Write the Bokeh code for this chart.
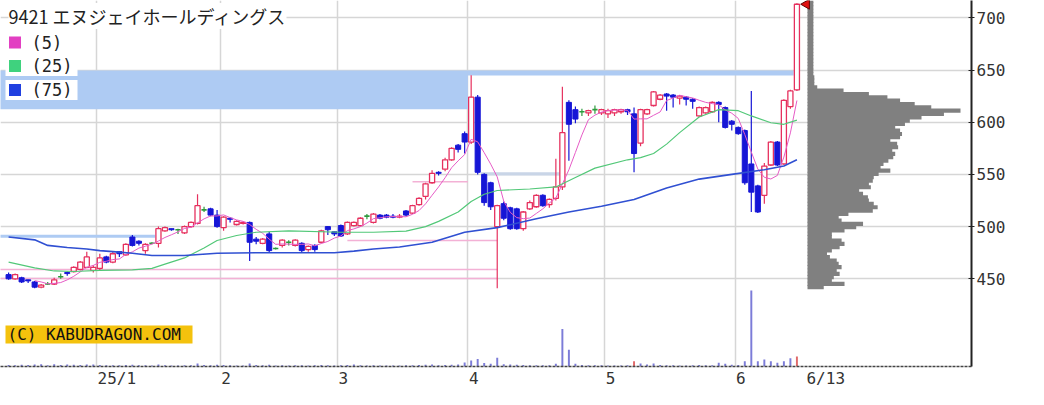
import numpy as np
import pandas as pd
from bokeh.plotting import figure
from bokeh.models import Range1d, FixedTicker, Label
from bokeh.embed import file_html
from bokeh.resources import INLINE

# ---------------- data ----------------
title_text = "9421 エヌジェイホールディングス"
ma_labels = ["(5)", "(25)", "(75)"]
copyright_text = "(C) KABUDRAGON.COM"
month_labels = ["25/1", "2", "3", "4", "5", "6"]
month_days = [14, 19, 18, 20, 21, 20, 10]      # trading days Dec..Jun(13)
last_label = "6/13"
price_ticks = [450, 500, 550, 600, 650, 700]

opens = [454, 450, 451, 449, 447, 442, 445, 445, 452, 456,
         457, 459, 461, 458, 460, 471, 466, 476, 473, 490,
         486, 477, 484, 484, 496, 498, 497, 494, 500, 503,
         516, 517, 511, 499, 508, 502, 503, 504, 488, 484,
         493, 479, 482, 485, 482, 484, 478, 482, 485, 500,
         495, 501, 493, 501, 501, 510, 504, 511, 511, 510,
         509, 515, 513, 521, 529, 542, 552, 555, 564, 578,
         589, 581, 624, 550, 542, 500, 522, 518, 517, 498,
         517, 519, 530, 521, 527, 538, 619, 612, 610, 609,
         612, 609, 608, 609, 610, 612, 608, 580, 608, 616,
         622, 627, 626, 623, 624, 622, 606, 609, 610, 619,
         614, 601, 595, 592, 560, 539, 530, 559, 581, 560,
         615, 631]
highs = [456, 455, 452, 449, 448, 445, 447, 451, 455, 457,
         462, 467, 476, 463, 474, 472, 476, 476, 484, 492,
         487, 484, 485, 500, 500, 498, 498, 501, 505, 531,
         519, 518, 516, 510, 509, 506, 505, 505, 490, 489,
         495, 480, 488, 487, 488, 485, 482, 483, 497, 500,
         495, 502, 505, 505, 509, 512, 513, 512, 512, 512,
         512, 516, 521, 528, 542, 554, 553, 566, 576, 579,
         591, 645, 626, 551, 543, 521, 524, 519, 518, 515,
         525, 531, 531, 527, 565, 634, 621, 615, 613, 612,
         616, 613, 613, 613, 613, 613, 614, 613, 613, 630,
         627, 628, 627, 626, 625, 623, 615, 615, 620, 620,
         615, 602, 596, 593, 630, 540, 561, 582, 582, 622,
         631, 714]
lows = [449, 449, 446, 446, 441, 441, 444, 444, 450, 453,
        456, 458, 460, 456, 458, 465, 465, 471, 472, 481,
        482, 474, 483, 480, 495, 496, 493, 493, 499, 502,
        514, 510, 499, 496, 504, 501, 502, 467, 483, 483,
        475, 478, 480, 482, 481, 475, 476, 476, 484, 492,
        491, 490, 492, 500, 500, 507, 503, 507, 508, 508,
        508, 510, 512, 520, 526, 541, 549, 553, 563, 571,
        570, 579, 550, 520, 516, 441, 506, 497, 497, 496,
        516, 518, 519, 518, 525, 535, 563, 599, 606, 606,
        608, 607, 604, 606, 608, 607, 552, 577, 607, 615,
        621, 611, 614, 617, 616, 613, 605, 608, 609, 600,
        594, 592, 588, 540, 514, 513, 522, 558, 558, 559,
        613, 630]
closes = [450, 454, 447, 448, 442, 444, 445, 449, 452, 455,
          461, 466, 471, 461, 470, 466, 474, 474, 483, 482,
          484, 483, 484, 498, 499, 497, 497, 500, 504, 520,
          516, 511, 500, 509, 507, 505, 504, 485, 486, 488,
          477, 479, 487, 485, 487, 477, 481, 478, 496, 497,
          493, 491, 504, 504, 508, 510, 512, 508, 509, 509,
          510, 511, 520, 527, 541, 551, 551, 564, 575, 574,
          581, 624, 552, 523, 519, 520, 508, 498, 498, 514,
          523, 530, 520, 526, 538, 590, 598, 603, 610, 611,
          612, 612, 611, 612, 612, 610, 570, 612, 612, 629,
          626, 625, 624, 625, 622, 620, 614, 614, 619, 617,
          595, 598, 589, 542, 533, 514, 558, 581, 559, 621,
          630, 713]
volumes = [40, 35, 45, 40, 50, 60, 35, 60, 40, 55,
           45, 40, 50, 55, 40, 30, 35, 30, 40, 45,
           30, 35, 25, 55, 35, 25, 25, 30, 35, 80,
           40, 35, 45, 40, 30, 25, 25, 80, 40, 30,
           45, 25, 30, 25, 30, 35, 25, 30, 40, 30,
           25, 35, 40, 55, 35, 25, 35, 25, 25, 25,
           25, 30, 35, 40, 45, 55, 35, 40, 45, 50,
           105, 160, 200, 90, 70, 230, 60, 50, 45, 40,
           35, 35, 30, 30, 70, 990, 440, 70, 40, 35,
           30, 30, 25, 25, 25, 30, 140, 80, 55, 80,
           40, 35, 30, 25, 25, 30, 40, 30, 35, 97,
           70, 45, 40, 140, 2000, 140, 185, 140, 97, 140,
           220, 265]
vol_red_days = [96, 121]

ma25_idx = [0, 4, 7, 10, 14, 19, 22, 24, 27, 30, 32, 35, 38, 43, 51, 56, 61, 64, 66,
            69, 71, 73, 75, 80, 84, 87, 90, 95, 97, 99, 101, 103, 106, 109, 112, 114,
            117, 119, 121]
ma25_val = [466, 460.5, 457.5, 457, 458, 458.6, 460, 464, 470, 479.5, 486.7, 491.5,
            494.6, 496, 494.6, 494.6, 495.6, 500, 505, 514, 524, 531, 534.6, 536, 538,
            547, 556, 564, 566, 570, 579, 590, 605, 612, 611, 606, 599.5, 598, 602]
ma75_idx = [0, 4, 6, 9, 12, 14, 16, 19, 22, 27, 32, 39, 45, 50, 53, 56, 60, 65, 70,
            75, 81, 86, 91, 96, 101, 106, 111, 116, 119, 121]
ma75_val = [490, 487.3, 482, 480, 478.6, 477, 476, 474.5, 472.3, 472.3, 474.5, 475,
            475, 475, 476.5, 478.6, 480.5, 485, 494.6, 499, 507.5, 514, 519.5, 526,
            537, 545.5, 550, 554.5, 558, 564]

# price-by-volume profile (bins from low to high)
profile_low = 440.4
profile_step = 3.19
profile_vol = [250, 570, 375, 405, 495, 450, 525, 480, 450, 345,
               300, 375, 495, 570, 525, 375, 375, 570, 750, 855,
               525, 480, 630, 1005, 1080, 1020, 945, 930, 855, 795,
               975, 945, 1005, 1020, 1095, 1275, 1125, 1170, 1245, 1320,
               1350, 1305, 1395, 1380, 1275, 1425, 1455, 1425, 1350, 1500,
               1575, 1755, 2100, 2355, 1905, 1650, 1425, 1230, 945, 555,
               150, 105, 105, 105, 90, 90, 90, 90, 90, 90,
               90, 90, 90, 90, 90, 90, 90, 90, 90, 90,
               90, 90, 90, 90, 90, 90, 90]

# support lines (pink) and resistance zones (light blue)
support_price = [543, 486.7, 458.9, 450.3]
support_from = [62, 52, -3, -3]
support_to = [70.5, 75, 75, 75]
zone_low = [612.5, 644.7, 489.3]
zone_high = [649.5, 649.5, 492.2]
zone_from = [-3, 70.5, -3]
zone_to = [70.5, 120.5, 22.5]
gap_low, gap_high, gap_from, gap_to = [549], [552], [72.5], [85]

# ---------------- geometry calibration ----------------
PX_IDX, PX0 = 6.515, 8.1      # px per trading day, x of day 0
PX_YEN, PY700 = 1.044, 17.3    # px per yen, y of 700
MONO_W = 9.63                  # advance of DejaVu Sans Mono at 16px


def ix(px):
    return (px - PX0) / PX_IDX


def py(y):
    return 700 - (y - PY700) / PX_YEN


FR_L, FR_R, FR_T, FR_B = 0, 971, 0, 366

p = figure(frame_width=FR_R - FR_L, frame_height=FR_B - FR_T,
           x_range=Range1d(ix(FR_L), ix(FR_R)), y_range=Range1d(py(FR_B), py(FR_T)),
           y_axis_location="right", output_backend="svg", toolbar_location=None,
           min_border_left=0, min_border_top=0, min_border_right=70, min_border_bottom=38)
p.background_fill_color = "white"
p.border_fill_color = "white"
p.outline_line_color = None

n = len(closes)
idx = np.arange(n)
starts = np.cumsum([0] + month_days[:-1])
bounds = [float(s) - 0.5 for s in starts[1:]]

# x labels: left-aligned just right of each month line (axis centres them)
tick_pos, overrides = [], {}
for lab, b in zip(month_labels, bounds):
    c = b + (1 + len(lab) * MONO_W / 2) / PX_IDX
    tick_pos.append(c)
    overrides[c] = lab
c_last = ix(806 + len(last_label) * MONO_W / 2)
tick_pos.append(c_last)
overrides[c_last] = last_label

# axes
ya = p.yaxis[0]
ya.ticker = FixedTicker(ticks=price_ticks)
ya.axis_line_color = "#222222"
ya.axis_line_width = 2
ya.major_tick_in = 3
ya.major_tick_out = 3
ya.major_tick_line_color = "#222222"
ya.minor_tick_line_color = None
ya.major_label_text_font = "DejaVu Sans Mono"
ya.major_label_text_font_size = "16px"
ya.major_label_text_color = "#333333"
ya.major_label_standoff = 2

xa = p.xaxis[0]
xa.ticker = FixedTicker(ticks=tick_pos)
xa.major_label_overrides = overrides
xa.axis_line_color = "#444444"
xa.axis_line_dash = "3 1"
xa.axis_line_width = 1.5
xa.major_tick_line_color = None
xa.major_tick_in = 0
xa.major_tick_out = 0
xa.minor_tick_line_color = None
xa.major_label_standoff = 2
xa.major_label_text_font = "DejaVu Sans Mono"
xa.major_label_text_font_size = "16px"
xa.major_label_text_color = "#333333"

p.xgrid.ticker = FixedTicker(ticks=bounds)
p.ygrid.ticker = FixedTicker(ticks=price_ticks)
for g in (p.xgrid, p.ygrid):
    g.grid_line_color = "#d6d6d6"
    g.grid_line_width = 1.5

# extra ranges: volume (bottom) and price profile (right)
VOL_PX = 76
p.extra_y_ranges = {"vol": Range1d(0, max(volumes) * (FR_B - FR_T) / VOL_PX)}
PROF_BASE, PROF_PX = 807, 153
k = max(profile_vol) / PROF_PX
p.extra_x_ranges = {"prof": Range1d(-(PROF_BASE - FR_L) * k, (FR_R - PROF_BASE) * k)}

# zones and lines
p.quad(left=zone_from, right=zone_to, bottom=zone_low, top=zone_high,
       fill_color="#aecbf3", line_color=None)
p.quad(left=gap_from, right=gap_to, bottom=gap_low, top=gap_high,
       fill_color="#c9d5e7", line_color=None)
p.segment(x0=support_from, y0=support_price, x1=support_to, y1=support_price,
          line_color="#f3b1d5", line_width=1.6)

# volume
vcols = ["#e06a6a" if i in vol_red_days else "#7c7cd8" for i in range(n)]
p.vbar(x=idx, top=volumes, bottom=0, width=0.3, y_range_name="vol",
       fill_color=vcols, line_color=None)

# candles
O, H, L, C = map(np.array, (opens, highs, lows, closes))
up = C > O
dn = C < O
fl = C == O
RED, BLUE, GREEN = "#e6305e", "#1616d6", "#2c9a3c"
wcol = [RED if u else (BLUE if d else GREEN) for u, d in zip(up, dn)]
p.segment(x0=idx, y0=L, x1=idx, y1=H, line_color=wcol, line_width=1.2)
p.vbar(x=idx[up], top=C[up], bottom=O[up], width=0.78,
       fill_color="white", line_color=RED, line_width=1.3)
p.vbar(x=idx[dn], top=O[dn], bottom=C[dn], width=0.78,
       fill_color=BLUE, line_color=BLUE, line_width=1)
p.segment(x0=idx[fl] - 0.4, y0=C[fl], x1=idx[fl] + 0.4, y1=C[fl],
          line_color=GREEN, line_width=1.6)

# moving averages
ma5 = pd.Series(closes).rolling(5).mean()
p.line(idx[4:], ma5.values[4:], line_color="#e65cc6", line_width=1)
p.line(ma25_idx, ma25_val, line_color="#52c878", line_width=1.2)
p.line(ma75_idx, ma75_val, line_color="#3050d2", line_width=1.6)

# price profile
centers = [profile_low + profile_step * (i + 0.5) for i in range(len(profile_vol))]
p.hbar(y=centers, left=0, right=profile_vol, height=profile_step * 1.25,
       x_range_name="prof", fill_color="#808080", line_color=None)

# current price marker
p.scatter(x=[ix(806)], y=[closes[-1]], marker="triangle", angle=np.pi / 2, size=10,
          fill_color="#e01010", line_color="#600000")

# legend boxes and swatches
rows_y = [42, 65.5, 89.5]
p.quad(left=[ix(5)] * 3, right=[ix(77)] * 3,
       bottom=[py(y + 10) for y in rows_y], top=[py(y - 10) for y in rows_y],
       fill_color="white", line_color=None)
p.scatter(x=[ix(14.5)] * 3, y=[py(y) for y in rows_y], marker="square", size=12,
          fill_color=["#e23fc2", "#3fd27e", "#2040e0"], line_color=None)
for lab, y in zip(ma_labels, rows_y):
    p.add_layout(Label(x=ix(31), y=py(y), text=lab, text_align="left",
                       text_baseline="middle", text_font="DejaVu Sans Mono",
                       text_font_size="17px", text_color="#222222"))

# title
p.add_layout(Label(x=ix(8), y=py(15.5), text=title_text, text_align="left",
                   text_baseline="middle", text_font="Noto Sans CJK JP",
                   text_font_size="18px", text_color="#222222",
                   background_fill_color="white"))

# copyright
p.quad(left=[ix(5)], right=[ix(192)], bottom=[py(343)], top=[py(325)],
       fill_color="#f4c20d", line_color=None)
p.add_layout(Label(x=ix(7), y=py(334), text=copyright_text, text_align="left",
                   text_baseline="middle", text_font="DejaVu Sans Mono",
                   text_font_size="16px", text_color="#111111"))

open("out.html", "w").write(file_html(p, INLINE))
